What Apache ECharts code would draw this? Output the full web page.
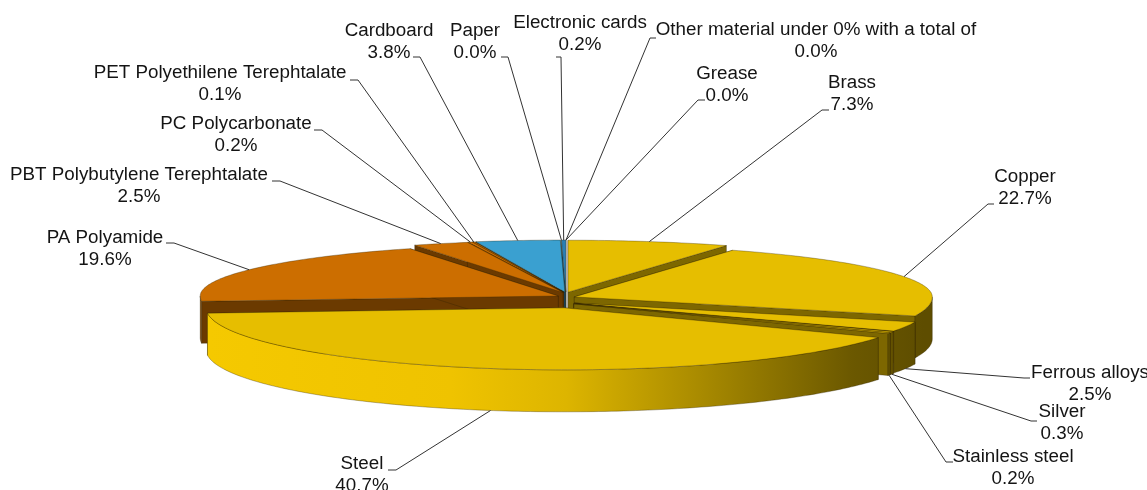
<!DOCTYPE html>
<html><head><meta charset="utf-8">
<script src="https://cdn.jsdelivr.net/npm/echarts@6/dist/echarts.min.js"></script>
<style>html,body{margin:0;padding:0;background:#fff}#c{width:1147px;height:490px}</style>
</head><body><div id="c"></div>
<script>
// ---- data (clockwise from 12 o'clock) ----
const categories = ['Other material under 0% with a total of','Grease','Brass','Copper','Ferrous alloys','Silver','Stainless steel','Steel','PA Polyamide','PBT Polybutylene Terephtalate','PC Polycarbonate','PET Polyethilene Terephtalate','Cardboard','Paper','Electronic cards'];
const shares = [0.0,0.0,7.3,22.7,2.5,0.3,0.2,40.7,19.6,2.5,0.2,0.1,3.8,0.0,0.2];
const groups = ['metal','metal','metal','metal','metal','metal','metal','metal','plastic','plastic','plastic','plastic','paper','paper','elec'];

// ---- styles / layout ----
const palette = {
  metal:{top:'#E6BE00', cut:'#7D6700', wall:'metal'},
  plastic:{top:'#CC6E00', cut:'#6B3A00', wall:'#7A4200'},
  paper:{top:'#3AA0D0', cut:'#1F5F85', wall:'#24709A'},
  elec:{top:'#2A7FB5', cut:'#174E70', wall:'#1C5C85'}
};
// label box: center x, top y, leader elbow [xText, xTurn, y]
const labelLayout = [
  {x:816, y:19, e:[656,650,38]},
  {x:727, y:63, e:[705,698,100]},
  {x:852, y:72, e:[829,822,110]},
  {x:1025,y:166,e:[994,988,204]},
  {x:1090,y:362,e:[1030,1024,378]},
  {x:1062,y:401,e:[1037,1031,421]},
  {x:1013,y:446,e:[953,946,462]},
  {x:362, y:453,e:[388,396,470]},
  {x:105, y:227,e:[166,174,243]},
  {x:139, y:164,e:[272,280,181]},
  {x:236, y:113,e:[314,322,130]},
  {x:220, y:62, e:[350,358,80]},
  {x:389, y:20, e:[413,420,57]},
  {x:475, y:20, e:[501,508,57]},
  {x:580, y:12, e:[556,561,57]}
];
const CX=566, CY=300, RX=358, RYB=52, RYF=62, DEPTH=42, EX=9, EY=8;
const FONT = '18.8px "Liberation Sans", Arial, sans-serif';

const total = shares.reduce((a,b)=>a+b,0);
const starts = []; let acc = 0;
shares.forEach(v=>{ starts.push(acc); acc += v; });

function pt(t, dx, dy, down){
  const s=Math.sin(t), c=Math.cos(t);
  const ry = c>0 ? RYB : RYF;
  return [CX+RX*s+dx, CY-ry*c+dy+(down?DEPTH:0)];
}
function arc(a1,a2,dx,dy,down){
  const pts=[]; const n=Math.max(2,Math.ceil((a2-a1)/(Math.PI/180)));
  for(let k=0;k<=n;k++) pts.push(pt(a1+(a2-a1)*k/n,dx,dy,down));
  return pts;
}
const wallGrad = {type:'linear', x:CX-RX, y:0, x2:CX+RX, y2:0, global:true,
  colorStops:[{offset:0,color:'#F5C900'},{offset:0.34,color:'#EFC300'},{offset:0.5,color:'#DDB500'},{offset:0.69,color:'#A88A00'},{offset:0.9,color:'#6B5800'},{offset:1,color:'#5E4D00'}]};
const edge = {stroke:'rgba(45,35,0,0.55)', lineWidth:0.6};

function renderItem(params, api){
  const i = params.dataIndex;
  const v = api.value(1);
  const a1 = starts[i]/total*2*Math.PI, a2 = (starts[i]+v)/total*2*Math.PI;
  const mid = (a1+a2)/2;
  const dx = EX*Math.sin(mid), dy = -EY*Math.cos(mid);
  const pal = palette[groups[i]];
  const zb = Math.round((-Math.cos(mid)+1)*50)*4;
  const children = [];
  if (a2 - a1 > 1e-6){
    const apT=[CX+dx,CY+dy], apB=[CX+dx,CY+dy+DEPTH];
    [a1,a2].forEach(a=>{
      children.push({type:'polygon', z2:zb, shape:{points:[apT,pt(a,dx,dy,false),pt(a,dx,dy,true),apB]}, style:Object.assign({fill:pal.cut},edge)});
    });
    const w1=Math.max(a1,Math.PI/2), w2=Math.min(a2,Math.PI*1.5);
    if (w2>w1){
      const top=arc(w1,w2,dx,dy,false), bot=arc(w1,w2,dx,dy,true).reverse();
      children.push({type:'polygon', z2:zb+1, shape:{points:top.concat(bot)}, style:Object.assign({fill:pal.wall==='metal'?wallGrad:pal.wall},edge)});
    }
    children.push({type:'polygon', z2:zb+2, shape:{points:[apT].concat(arc(a1,a2,dx,dy,false))}, style:Object.assign({fill:pal.top},edge)});
  }
  // label + leader line
  const front = Math.cos(mid) < 0;
  const anchor = pt(mid,dx,dy,front);
  const L = labelLayout[i];
  children.push({type:'polyline', z2:1000, shape:{points:[[L.e[0],L.e[2]],[L.e[1],L.e[2]],anchor]}, style:{stroke:'#333333', lineWidth:1, fill:null}});
  children.push({type:'text', z2:1001, style:{text:categories[i]+'\n'+shares[i].toFixed(1)+'%', x:L.x, y:L.y, align:'center', verticalAlign:'top', font:FONT, lineHeight:22, fill:'#141414'}});
  return {type:'group', children};
}

const chart = echarts.init(document.getElementById('c'), null, {renderer:'canvas'});
chart.setOption({
  animation:false,
  backgroundColor:'#ffffff',
  series:[{type:'custom', coordinateSystem:'none', renderItem, data: shares.map((v,i)=>[i,v])}]
});
</script></body></html>
